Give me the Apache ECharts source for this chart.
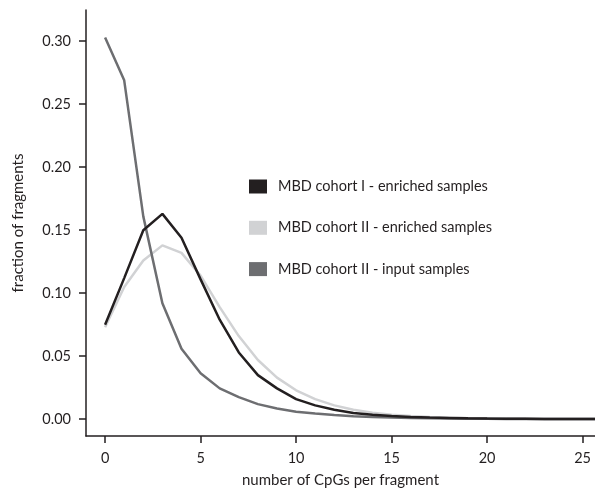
<!DOCTYPE html>
<html>
<head>
<meta charset="utf-8">
<script src="https://cdn.jsdelivr.net/npm/echarts@6/dist/echarts.min.js"></script>
<style>
html, body { margin: 0; padding: 0; background: #fff; }
#chart { width: 595px; height: 493px; }
</style>
</head>
<body>
<div id="chart"></div>
<script>
// number of CpGs per fragment
var cpgCounts = [0,1,2,3,4,5,6,7,8,9,10,11,12,13,14,15,16,17,18,19,20,21,22,23,24,25,26];
// fraction of fragments
var cohort1Enriched = [0.075,0.112,0.150,0.163,0.144,0.111,0.079,0.053,0.035,0.0245,0.016,0.011,0.0075,0.005,0.0035,0.0025,0.0018,0.0013,0.001,0.0007,0.0005,0.0004,0.0003,0.0002,0.0002,0.0001,0.0001];
var cohort2Enriched = [0.073,0.105,0.126,0.138,0.132,0.114,0.089,0.066,0.047,0.033,0.023,0.016,0.011,0.0075,0.0052,0.0036,0.0025,0.0017,0.0012,0.0008,0.0006,0.0004,0.0003,0.0002,0.0002,0.0001,0.0001];
var cohort2Input = [0.303,0.269,0.161,0.092,0.056,0.0365,0.0245,0.0175,0.012,0.0085,0.006,0.0045,0.0033,0.0024,0.0018,0.0013,0.001,0.0007,0.0005,0.0004,0.0003,0.0002,0.0002,0.0001,0.0001,0.0001,0.0001];

var xTicks = [0,5,10,15,20,25];
var yTicks = [0,0.05,0.10,0.15,0.20,0.25,0.30];

var seriesNames = ['MBD cohort I - enriched samples','MBD cohort II - enriched samples','MBD cohort II - input samples'];

function pairs(vals) {
	return cpgCounts.map(function (n, i) { return [n, vals[i]]; });
}

var font = 'Lato, "Open Sans", sans-serif';
var ink = '#231f20';

var chart = echarts.init(document.getElementById('chart'));
var option = {
	animation: false,
	textStyle: { fontFamily: font },
	grid: { left: 86, right: 0, top: 10, bottom: 57, containLabel: false },
	legend: {
		orient: 'vertical',
		left: 249,
		top: 179,
		padding: 0,
		itemWidth: 18,
		itemHeight: 14,
		itemGap: 26.3,
		icon: 'rect',
		data: seriesNames,
		textStyle: { fontFamily: font, fontSize: 14.5, color: ink, padding: [0, 0, 0, 6] }
	},
	xAxis: {
		type: 'value',
		min: -1,
		max: 25.65,
		name: 'number of CpGs per fragment',
		nameLocation: 'middle',
		nameGap: 37,
		nameTextStyle: { fontSize: 15, color: ink, fontFamily: font },
		axisLine: { show: true, onZero: false, lineStyle: { color: ink, width: 1.5 } },
		axisTick: { show: true, length: 7, customValues: xTicks, lineStyle: { color: ink, width: 1.5 } },
		axisLabel: { customValues: xTicks, margin: 15, fontSize: 14.5, color: ink, fontFamily: font },
		splitLine: { show: false }
	},
	yAxis: {
		type: 'value',
		min: -0.0133,
		max: 0.3248,
		name: 'fraction of fragments',
		nameLocation: 'middle',
		nameGap: 60,
		nameTextStyle: { fontSize: 15, color: ink, fontFamily: font },
		axisLine: { show: true, onZero: false, lineStyle: { color: ink, width: 1.5 } },
		axisTick: { show: true, length: 7, customValues: yTicks, lineStyle: { color: ink, width: 1.5 } },
		axisLabel: {
			customValues: yTicks, margin: 15, fontSize: 14.5, color: ink, fontFamily: font,
			formatter: function (v) { return v.toFixed(2); }
		},
		splitLine: { show: false }
	},
	series: [
		{
			name: seriesNames[1], type: 'line', data: pairs(cohort2Enriched),
			showSymbol: false, clip: true,
			lineStyle: { color: '#d1d2d4', width: 2.5 }, itemStyle: { color: '#d1d2d4' }
		},
		{
			name: seriesNames[2], type: 'line', data: pairs(cohort2Input),
			showSymbol: false, clip: true,
			lineStyle: { color: '#6d6e71', width: 2.5 }, itemStyle: { color: '#6d6e71' }
		},
		{
			name: seriesNames[0], type: 'line', data: pairs(cohort1Enriched),
			showSymbol: false, clip: true,
			lineStyle: { color: ink, width: 2.5 }, itemStyle: { color: ink }
		}
	]
};
chart.setOption(option, true);
</script>
</body>
</html>
